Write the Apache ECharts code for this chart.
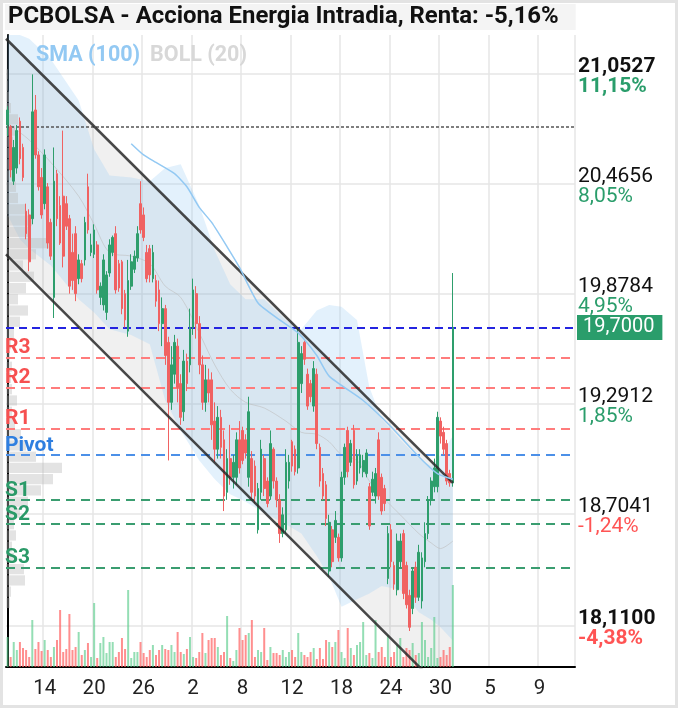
<!DOCTYPE html>
<html><head><meta charset="utf-8">
<script src="https://cdn.jsdelivr.net/npm/echarts@6/dist/echarts.min.js"></script>
<style>html,body{margin:0;padding:0;background:#fff;}#c{width:678px;height:708px;}</style>
</head><body><div id="c"></div>
<script>
// ---------- DATA ----------
const titleText = 'PCBOLSA - Acciona Energia Intradia, Renta: -5,16%';
const nSlots = 184;
const dayLabels = ['14','20','26','2','8','12','18','24','30','5','9'];
const labelSlots = [12,28,44,60,76,92,108,124,140,156,172];

// candles: [open, close, low, high]
const candles = [
[20.78,20.86,20.72,20.88],[20.77,20.54,20.50,20.78],[20.48,20.66,20.46,20.70],[20.55,20.75,20.52,20.78],
[20.80,20.60,20.57,20.82],[20.66,20.50,20.48,20.68],[20.32,20.20,20.17,20.36],[20.30,20.05,20.00,20.33],
[20.28,20.85,20.25,21.05],[20.86,20.62,20.60,20.94],[20.62,20.45,20.43,20.64],[20.50,20.30,20.28,20.55],
[20.36,20.62,20.33,20.65],[20.45,20.15,20.12,20.47],[20.26,20.08,20.06,20.28],[19.86,20.48,19.75,20.66],
[20.52,20.28,20.24,20.54],[20.35,20.15,20.14,20.40],[20.40,20.08,20.02,20.75],[20.36,20.24,20.22,20.40],
[20.28,19.92,19.88,20.30],[20.10,19.95,19.90,20.20],[20.20,19.88,19.84,20.24],[19.96,20.06,19.93,20.09],
[20.04,19.96,19.94,20.06],[20.06,20.26,20.03,20.29],[20.45,20.22,20.20,20.52],[20.10,20.14,20.08,20.20],
[20.09,20.22,20.07,20.25],[20.14,19.90,19.88,20.16],[19.86,19.92,19.82,19.94],[19.82,20.06,19.79,20.09],
[19.78,19.98,19.74,20.00],[19.99,20.14,19.97,20.17],[20.10,20.18,20.08,20.19],[20.20,19.90,19.88,20.24],
[20.04,19.91,19.89,20.06],[20.05,19.80,19.77,20.06],[19.88,19.74,19.70,19.90],[19.68,19.95,19.65,20.06],
[19.92,20.05,19.90,20.09],[20.01,20.08,19.99,20.11],[20.07,20.20,20.05,20.24],[20.36,20.22,20.20,20.48],
[20.30,20.18,20.16,20.34],[20.10,19.96,19.94,20.14],[20.12,19.98,19.94,20.14],[19.96,20.10,19.94,20.14],
[19.95,19.84,19.81,19.98],[19.90,19.72,19.68,19.95],[19.72,19.80,19.60,19.86],[19.80,19.55,19.50,19.82],
[19.62,19.30,18.99,19.65],[19.30,19.50,19.26,19.60],[19.45,19.62,19.40,19.66],[19.60,19.38,19.30,19.64],
[19.40,19.22,19.18,19.45],[19.25,19.52,19.20,19.58],[19.52,19.40,19.36,19.56],[19.50,19.70,19.46,19.80],
[19.70,19.90,19.66,19.96],[19.88,19.72,19.64,19.92],[19.72,19.50,19.45,19.76],[19.50,19.30,19.26,19.55],
[19.30,19.42,19.25,19.50],[19.42,19.35,19.30,19.48],[19.42,19.18,19.10,19.46],[19.20,19.05,18.98,19.30],
[19.05,19.22,19.00,19.28],[19.22,19.06,19.00,19.26],[19.10,18.80,18.72,19.15],[18.82,19.00,18.78,19.05],
[19.00,18.90,18.86,19.18],[18.90,18.98,18.84,19.02],[18.90,19.10,18.86,19.14],[19.10,18.95,18.92,19.20],
[19.15,18.99,18.97,19.17],[19.10,19.03,19.00,19.13],[18.90,19.25,18.85,19.33],[19.00,18.82,18.78,19.04],
[18.96,18.80,18.76,18.99],[18.62,18.84,18.60,18.87],[18.82,19.05,18.78,19.10],[19.00,18.84,18.80,19.02],
[18.88,18.76,18.74,18.90],[18.80,19.08,18.78,19.15],[19.05,18.88,18.84,19.06],[18.88,18.78,18.74,18.90],
[18.78,18.60,18.55,18.81],[18.60,18.70,18.58,18.74],[18.62,18.98,18.60,19.05],[18.88,18.98,18.84,19.02],
[19.09,18.96,18.93,19.10],[19.05,18.93,18.91,19.07],[18.95,19.62,18.92,19.70],[19.40,19.56,19.35,19.60],
[19.62,19.53,19.50,19.63],[19.45,19.28,19.26,19.48],[19.40,19.33,19.30,19.42],[19.28,19.48,19.25,19.52],
[19.45,19.08,19.05,19.48],[19.06,18.88,18.85,19.08],[18.92,18.80,18.78,18.95],[18.86,18.68,18.64,18.88],
[18.40,18.66,18.37,18.70],[18.62,18.45,18.42,18.64],[18.58,18.67,18.55,18.72],[18.58,18.47,18.45,18.60],
[18.47,18.90,18.45,18.93],[18.90,19.06,18.86,19.08],[19.15,18.93,18.90,19.17],[18.98,19.08,18.96,19.10],
[19.15,18.86,18.84,19.18],[18.88,19.02,18.86,19.05],[18.95,19.02,18.92,19.05],[18.93,18.99,18.90,19.02],
[18.92,19.03,18.90,19.05],[18.85,18.64,18.62,18.87],[18.82,18.89,18.80,18.93],[18.80,18.92,18.76,18.95],
[19.10,18.80,18.78,19.14],[18.90,18.72,18.70,18.92],[18.84,18.76,18.72,18.86],[18.36,18.60,18.33,18.64],
[18.62,18.45,18.42,18.65],[18.43,18.33,18.30,18.45],[18.30,18.56,18.27,18.60],[18.45,18.56,18.42,18.60],
[18.60,18.28,18.25,18.62],[18.43,18.22,18.20,18.45],[18.27,18.10,18.08,18.30],[18.20,18.40,18.17,18.42],
[18.42,18.26,18.23,18.45],[18.26,18.50,18.24,18.54],[18.24,18.47,18.20,18.50],[18.45,18.60,18.42,18.66],
[18.60,18.78,18.57,18.80],[18.78,18.88,18.75,18.90],[18.85,18.95,18.82,19.00],[18.85,19.22,18.82,19.25],
[19.20,19.12,19.08,19.22],[19.14,19.05,19.02,19.17],[19.08,18.88,18.86,19.10],[18.92,18.87,18.85,18.94],
[18.87,19.70,18.85,19.99]
];

const volumes = [
30,10,25,17,25,19,17,10,47,18,25,16,27,17,10,20,27,57,15,18,53,17,20,35,12,17,24,10,64,9,
24,30,14,25,25,10,15,29,18,77,9,15,15,25,14,10,17,22,12,
17,22,18,17,22,15,35,15,13,18,30,10,9,15,34,14,27,29,29,20,12,15,51,9,6,17,39,27,32,34,
47,10,17,15,39,7,20,14,14,12,17,10,15,17,10,34,15,
12,10,15,19,8,19,8,27,25,20,25,37,15,9,39,19,12,22,25,45,12,14,9,47,15,20,10,32,10,15,
22,29,10,19,17,24,12,14,45,27,10,19,50,9,10,17,12,20,82
];

// SMA(100): [slot, price]
const smaPoints = [[40,20.68],[44,20.62],[48,20.58],[54,20.52],[58,20.45],[62,20.34],[66,20.26],[71,20.13],
[75,20.02],[81,19.83],[88,19.74],[94,19.67],[100,19.55],[104,19.44],[115,19.31],[124,19.17],[133,19.01],[139,18.92],[144,18.89]];

// Bollinger (20) bands
const bollSlots = [0,4,7,14,23,28,33,40,46,51,56,62,67,72,77,83,90,95,100,104,108,113,117,121,127,133,137,140,144];
const bollUpper = [21.29,21.26,21.24,21.13,20.91,20.65,20.51,20.50,20.48,20.55,20.57,20.35,20.11,19.93,19.85,19.85,19.74,19.69,19.79,19.82,19.81,19.74,19.38,19.21,19.10,19.00,18.96,19.02,19.12];
const bollLower = [20.30,20.17,20.12,20.03,19.85,19.78,19.69,19.66,19.61,19.31,19.15,18.99,18.89,18.81,18.77,18.71,18.65,18.60,18.48,18.37,18.21,18.25,18.28,18.32,18.30,18.18,18.14,18.10,18.03];
const bollMid   = [20.79,20.74,20.70,20.58,20.40,20.25,20.10,20.08,20.04,19.92,19.86,19.67,19.50,19.37,19.30,19.27,19.20,19.14,19.13,19.09,19.02,18.99,18.88,18.80,18.70,18.60,18.55,18.52,18.56];

// trend channel
const chanSlots = [-0.5, 144];
const chanUpper = [21.24, 18.87];
const chanLower = [20.09, 17.71];

// volume profile (left)
const profileStart = 18.20, profileStep = 0.06;
const profileWidths = [4,5,19,18,8,6,10,8,14,22,35,47,56,30,20,15,9,6,11,6,5,6,4,5,8,14,22,12,20,28,17,30,45,24,26,20,12,10,8,9,10,7,9,12,5,3,2,2];

// levels
const levelNames = ['R3','R2','R1','Pivot','S1','S2','S3'];
const levelValues = [19.54, 19.38, 19.16, 19.02, 18.78, 18.65, 18.42];
const lastPrice = 19.70;
const lastPriceText = '19,7000';
const refLine = 20.77;

// y ticks
const yTickValues = [18.11, 18.7041, 19.2912, 19.8784, 20.4656, 21.0527];
const yTickPrice = ['18,1100','18,7041','19,2912','19,8784','20,4656','21,0527'];
const yTickPct = ['-4,38%','-1,24%','1,85%','4,95%','8,05%','11,15%'];
const yTickBold = [true,false,false,false,false,true];
const yMin = 17.888, yMax = 21.26;

// ---------- STYLE ----------
const UP = '#2e9e6c', DOWN = '#f06262';
const VOL_UP = 'rgba(90,205,140,0.65)', VOL_DOWN = 'rgba(255,95,95,0.7)';
const FONT = 'Roboto';
const levelColors = {R:'#f65050', P:'#2f7fe0', S:'#2a9a68'};
const levelLineColors = {R:'#ff7c7c', P:'#4c90e8', S:'#3a9d70'};

// ---------- BUILD ----------
const categories = Array.from({length:nSlots}, (_, i) => {
  const k = labelSlots.indexOf(i); return k >= 0 ? dayLabels[k] : '';
});
const showSlot = (idx) => labelSlots.indexOf(idx) >= 0;
const volData = volumes.map((v, i) => ({value: v, itemStyle: {color: candles[i][1] >= candles[i][0] ? VOL_UP : VOL_DOWN}}));
const bollMidPts = bollSlots.map((s, i) => [s, bollMid[i]]);
const chanLowerPts = chanSlots.map((s, i) => [s, chanLower[i]]);
const chanUpperPts = chanSlots.map((s, i) => [s, chanUpper[i]]);
const profileData = profileWidths.map((w, i) => [w, profileStart + i*profileStep, profileStart + (i+1)*profileStep]);

// polygon between two value lines, drawn through the axes' scales
const bandRenderer = (xs, top, bottom, fill) => (params, api) => {
  const pts = [];
  xs.forEach((s, i) => pts.push(api.coord([s, top[i]])));
  for (let i = xs.length - 1; i >= 0; i--) pts.push(api.coord([xs[i], bottom[i]]));
  return {type: 'polygon', shape: {points: pts}, style: {fill: fill}};
};

const levelMarks = levelNames.map((n, i) => {
  const key = n[0] === 'R' ? 'R' : (n[0] === 'S' ? 'S' : 'P');
  return {
    yAxis: levelValues[i],
    lineStyle: {color: levelLineColors[key], width: 2, type: [9, 6]},
    label: {show: true, position: 'insideStartTop', formatter: n, color: levelColors[key],
            fontSize: 21, fontWeight: 'bold', fontFamily: FONT, distance: [-1, -1]}
  };
});
const markData = [
  {yAxis: refLine, lineStyle: {color: '#555', width: 1.5, type: [3, 2]}, label: {show: false}},
  ...levelMarks,
  {yAxis: lastPrice, lineStyle: {color: '#2424e0', width: 2, type: [8, 5]},
   label: {show: true, position: 'end', formatter: lastPriceText, color: '#fff', backgroundColor: '#2a9d6b',
           fontSize: 20, fontFamily: FONT, padding: [3, 8, 2, 6], distance: 2}}
];

const tickIndex = (v) => {
  let best = 0, bd = Infinity;
  yTickValues.forEach((t, i) => { const d = Math.abs(t - v); if (d < bd) { bd = d; best = i; } });
  return best;
};

const chart = echarts.init(document.getElementById('c'), null, {renderer: 'canvas'});
chart.setOption({
  animation: false,
  backgroundColor: '#fff',
  textStyle: {fontFamily: FONT},
  title: {
    text: titleText, left: 5, top: 4,
    backgroundColor: '#f4f4f4', padding: [1, 17, 1, 3],
    textStyle: {fontSize: 23.9, fontWeight: 'bold', color: '#111', fontFamily: FONT}
  },
  legend: {
    data: [{name: 'SMA (100)', textStyle: {color: '#93c9f3'}}, {name: 'BOLL (20)', textStyle: {color: '#d8d8d8'}}],
    icon: 'none', itemWidth: 0, itemGap: 5, left: 26, top: 40, selectedMode: false,
    textStyle: {fontSize: 21.5, fontWeight: 'bold', fontFamily: FONT}
  },
  graphic: [{type: 'rect', shape: {x: 1.5, y: 1.5, width: 675, height: 705}, style: {fill: 'none', stroke: '#e3e3e3', lineWidth: 3}, silent: true}],
  grid: [
    {left: 6, right: 103, top: 35, bottom: 41},
    {left: 6, right: 103, top: 577, bottom: 41}
  ],
  xAxis: [
    {type: 'category', gridIndex: 0, data: categories, boundaryGap: true,
     axisLine: {show: true, lineStyle: {color: '#000', width: 2}},
     axisTick: {show: false},
     axisLabel: {interval: showSlot, fontSize: 20.5, color: '#222', margin: 11, fontFamily: FONT},
     splitLine: {show: true, interval: showSlot, lineStyle: {color: '#e6e6e6', width: 1.5}}},
    {type: 'value', gridIndex: 0, min: -0.5, max: nSlots - 0.5, show: false},
    {type: 'value', gridIndex: 0, min: 0, max: 569, show: false},
    {type: 'category', gridIndex: 1, data: categories, boundaryGap: true, show: false}
  ],
  yAxis: [
    {type: 'value', gridIndex: 0, position: 'right', min: yMin, max: yMax,
     axisLine: {show: true, lineStyle: {color: '#000', width: 2}},
     axisTick: {show: false, customValues: yTickValues},
     axisLabel: {
       customValues: yTickValues, margin: 3, align: 'left', padding: [6, 0, 0, 0],
       formatter: (v) => {
         const k = tickIndex(v);
         const b = yTickBold[k];
         const neg = yTickPct[k].charAt(0) === '-';
         return '{' + (b ? 'pb' : 'p') + '|' + yTickPrice[k] + '}\n{' + (neg ? 'r' : 'g') + (b ? 'b' : '') + '|' + yTickPct[k] + '}';
       },
       rich: {
         p:  {fontSize: 21, color: '#111', lineHeight: 20, fontFamily: FONT},
         pb: {fontSize: 21, color: '#111', lineHeight: 20, fontWeight: 'bold', fontFamily: FONT},
         g:  {fontSize: 21, color: '#2a9d6b', lineHeight: 20, fontFamily: FONT},
         gb: {fontSize: 21, color: '#2a9d6b', lineHeight: 20, fontWeight: 'bold', fontFamily: FONT},
         r:  {fontSize: 21, color: '#ff5454', lineHeight: 20, fontFamily: FONT},
         rb: {fontSize: 21, color: '#ff5454', lineHeight: 20, fontWeight: 'bold', fontFamily: FONT}
       }
     },
     splitLine: {show: true, lineStyle: {color: '#e6e6e6', width: 1.5}}},
    {type: 'value', gridIndex: 1, min: 0, max: 90, show: false}
  ],
  series: [
    {name: 'chanFill', type: 'custom', xAxisIndex: 1, yAxisIndex: 0, data: [[0, 19.5]], clip: true, silent: true, z: 1,
     renderItem: bandRenderer(chanSlots, chanUpper, chanLower, 'rgba(0,0,0,0.06)')},
    {name: 'BOLL (20)', type: 'custom', xAxisIndex: 1, yAxisIndex: 0, data: [[0, 19.5]], clip: true, silent: true, z: 2,
     itemStyle: {color: '#d8d8d8'},
     renderItem: bandRenderer(bollSlots, bollUpper, bollLower, 'rgba(150,205,245,0.27)')},
    {name: 'bollMid', type: 'line', xAxisIndex: 1, yAxisIndex: 0, data: bollMidPts, smooth: 0.3,
     symbol: 'none', lineStyle: {color: 'rgba(190,190,190,0.6)', width: 1}, silent: true, z: 3},
    {name: 'profile', type: 'custom', xAxisIndex: 2, yAxisIndex: 0, data: profileData, silent: true, z: 3,
     renderItem: (params, api) => {
       const lo = api.coord([0, api.value(1)]);
       const hi = api.coord([api.value(0), api.value(2)]);
       return {type: 'rect', shape: {x: lo[0], y: hi[1] + 0.5, width: hi[0] - lo[0], height: lo[1] - hi[1] - 1},
               style: {fill: 'rgba(185,185,185,0.4)'}};
     }},
    {name: 'vol', type: 'bar', xAxisIndex: 3, yAxisIndex: 1, data: volData, barWidth: 2, silent: true, z: 4},
    {name: 'price', type: 'candlestick', xAxisIndex: 0, yAxisIndex: 0, data: candles, barWidth: 2.2, z: 5,
     itemStyle: {color: UP, color0: DOWN, borderColor: UP, borderColor0: DOWN, borderWidth: 1},
     markLine: {symbol: ['none', 'none'], silent: true, animation: false, data: markData}},
    {name: 'chanUpper', type: 'line', xAxisIndex: 1, yAxisIndex: 0, data: chanUpperPts,
     symbol: 'none', lineStyle: {color: 'rgba(40,40,40,0.85)', width: 2.5}, silent: true, z: 6},
    {name: 'chanLower', type: 'line', xAxisIndex: 1, yAxisIndex: 0, data: chanLowerPts,
     symbol: 'none', lineStyle: {color: 'rgba(40,40,40,0.85)', width: 2.5}, silent: true, z: 6},
    {name: 'SMA (100)', type: 'line', xAxisIndex: 1, yAxisIndex: 0, data: smaPoints, smooth: 0.2,
     symbol: 'none', lineStyle: {color: '#93c9f3', width: 1.5}, itemStyle: {color: '#93c9f3'}, silent: true, z: 6}
  ]
});
</script></body></html>
